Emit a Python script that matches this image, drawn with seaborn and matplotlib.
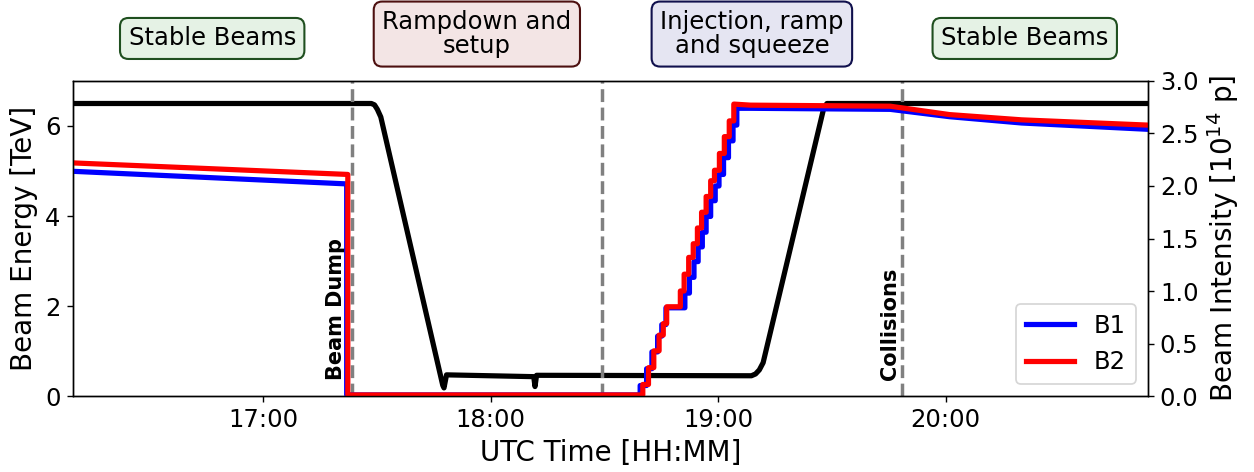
import numpy as np
import pandas as pd
import matplotlib
matplotlib.use("Agg")
import matplotlib.pyplot as plt
import matplotlib.dates as mdates
import seaborn as sns

DAY = "2018-06-01 "

# ---- Beam energy (TeV), left axis ----
energy_time = ["16:09:45", "17:28:30", "17:29:20", "17:30:05", "17:31:00", "17:47:20",
               "17:47:40", "17:48:20", "18:11:20", "18:11:40", "18:12:05", "19:08:45",
               "19:09:50", "19:10:50", "19:11:50", "19:27:50", "19:28:40", "20:53:15"]
energy_tev = [6.5, 6.5, 6.47, 6.37, 6.20, 0.24,
              0.18, 0.47, 0.43, 0.21, 0.46, 0.45,
              0.49, 0.58, 0.74, 6.40, 6.5, 6.5]

# ---- Beam intensity (1e14 p), right axis ----
# stable-beams decay before dump
b1_pre_time = ["16:09:45", "17:22:00"]
b1_pre_val = [2.14, 2.02]
b2_pre_time = ["16:09:45", "17:22:18"]
b2_pre_val = [2.22, 2.11]
dump_level = 0.01

# injection steps (time of step, level after step)
b1_step_time = ["18:39:24", "18:41:06", "18:42:30", "18:44:00", "18:45:06", "18:46:12",
                "18:51:12", "18:52:24", "18:53:36", "18:54:42", "18:55:48", "18:56:48",
                "18:58:00", "18:59:12", "19:00:12", "19:01:24", "19:02:42", "19:03:54",
                "19:04:54"]
b1_step_val = [0.10, 0.26, 0.42, 0.57, 0.68, 0.84, 0.98, 1.13, 1.28, 1.42, 1.56, 1.71,
               1.86, 2.00, 2.11, 2.27, 2.43, 2.58, 2.74]
b2_step_time = ["18:40:06", "18:41:36", "18:43:00", "18:44:24", "18:45:30", "18:46:24",
                "18:50:00", "18:51:00", "18:52:12", "18:53:24", "18:54:30", "18:55:36",
                "18:56:48", "18:58:00", "18:59:00", "19:00:18", "19:01:36", "19:02:54",
                "19:04:06"]
b2_step_val = [0.11, 0.27, 0.43, 0.58, 0.69, 0.85, 1.00, 1.16, 1.32, 1.45, 1.60, 1.75,
               1.90, 2.05, 2.15, 2.31, 2.47, 2.62, 2.78]

# after injection (ramp, squeeze, collisions)
b1_post_time = ["19:08:30", "19:45:20", "20:01:00", "20:20:00", "20:53:15"]
b1_post_val = [2.74, 2.73, 2.66, 2.60, 2.54]
b2_post_time = ["19:08:30", "19:45:20", "20:01:00", "20:20:00", "20:53:15"]
b2_post_val = [2.77, 2.76, 2.68, 2.63, 2.58]

# phase markers
line_times = ["17:23:20", "18:29:20", "19:48:25"]
phase_labels = ["Stable Beams", "Rampdown and\nsetup", "Injection, ramp\nand squeeze", "Stable Beams"]
phase_face = [(0, 0.5, 0, 0.1), (0.545, 0, 0, 0.1), (0, 0, 0.5, 0.1), (0, 0.5, 0, 0.1)]
phase_edge = ["#1f4f1f", "#4d1010", "#10104d", "#1f4f1f"]
x_start, x_end = "16:09:45", "20:53:15"


def T(s):
    return pd.Timestamp(DAY + s)


def build_intensity(pre_t, pre_v, step_t, step_v, post_t, post_v):
    ts, vs = [T(t) for t in pre_t], list(pre_v)
    ts.append(T(pre_t[-1])); vs.append(dump_level)
    level = dump_level
    for t, v in zip(step_t, step_v):
        ts += [T(t), T(t)]
        vs += [level, v]
        level = v
    ts += [T(t) for t in post_t]
    vs += list(post_v)
    return pd.DataFrame({"time": ts, "intensity": vs})


energy_df = pd.DataFrame({"time": [T(t) for t in energy_time], "energy": energy_tev})
b1_df = build_intensity(b1_pre_time, b1_pre_val, b1_step_time, b1_step_val, b1_post_time, b1_post_val)
b2_df = build_intensity(b2_pre_time, b2_pre_val, b2_step_time, b2_step_val, b2_post_time, b2_post_val)

fig = plt.figure(figsize=(1254 / 125, 472 / 125), dpi=125)
ax = fig.add_axes([0.058, 0.161, 0.9152 - 0.058, 0.8284 - 0.161])
ax2 = ax.twinx()

sns.lineplot(data=energy_df, x="time", y="energy", ax=ax, color="black", lw=3,
             sort=False, estimator=None, legend=False)
sns.lineplot(data=b1_df, x="time", y="intensity", ax=ax2, color="blue", lw=3,
             sort=False, estimator=None, label="B1")
sns.lineplot(data=b2_df, x="time", y="intensity", ax=ax2, color="red", lw=3,
             sort=False, estimator=None, label="B2")

for lt in line_times:
    ax.axvline(T(lt), color="gray", ls="--", lw=2)

ax.set_xlim(T(x_start), T(x_end))
ax.set_ylim(0, 7)
ax2.set_ylim(0, 3.0)
ax.set_yticks([0, 2, 4, 6])
ax2.set_yticks(np.arange(0, 3.01, 0.5))
ax.xaxis.set_major_locator(mdates.HourLocator())
ax.xaxis.set_major_formatter(mdates.DateFormatter("%H:%M"))

ax.set_xlabel("UTC Time [HH:MM]", fontsize=16)
ax.set_ylabel("Beam Energy [TeV]", fontsize=16)
ax2.set_ylabel("Beam Intensity [$10^{14}$ p]", fontsize=16)
ax.tick_params(labelsize=14)
ax2.tick_params(labelsize=14)

# phase boxes
bounds = [T(x_start)] + [T(t) for t in line_times] + [T(x_end)]
trans = ax.get_xaxis_transform()
for i, lab in enumerate(phase_labels):
    mid = bounds[i] + (bounds[i + 1] - bounds[i]) / 2
    ypos = 1.149 if "\n" in lab else 1.135
    ax.text(mid, ypos, lab, transform=trans, ha="center", va="center", fontsize=14,
            linespacing=1.0,
            bbox=dict(boxstyle="round,pad=0.35", facecolor=phase_face[i],
                      edgecolor=phase_edge[i], lw=1.2))

ax.text(T("17:19:06"), 0.36, "Beam Dump", rotation=90, ha="center", va="bottom",
        fontsize=12, fontweight="bold")
ax.text(T("19:45:20"), 0.36, "Collisions", rotation=90, ha="center", va="bottom",
        fontsize=12, fontweight="bold")

ax2.legend(loc="lower right", fontsize=14)

fig.savefig("out.png", dpi=125)
